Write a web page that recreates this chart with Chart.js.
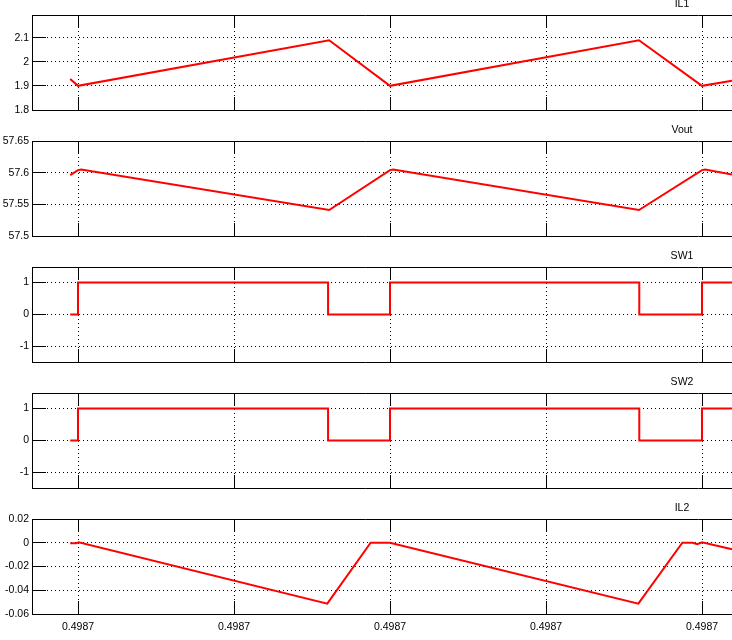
<!DOCTYPE html>
<html>
<head>
<meta charset="utf-8">
<script src="https://cdn.jsdelivr.net/npm/chart.js@4.4.0/dist/chart.umd.min.js"></script>
<style>
  html, body { margin: 0; padding: 0; background: #fff; width: 732px; height: 640px; overflow: hidden; }
  .panel { position: absolute; left: 0; width: 1364px; }
  canvas { display: block; }
</style>
</head>
<body>
<div class="panel" id="p1"><canvas id="c1" width="1364" height="115"></canvas></div>
<div class="panel" id="p2"><canvas id="c2" width="1364" height="115"></canvas></div>
<div class="panel" id="p3"><canvas id="c3" width="1364" height="115"></canvas></div>
<div class="panel" id="p4"><canvas id="c4" width="1364" height="115"></canvas></div>
<div class="panel" id="p5"><canvas id="c5" width="1364" height="138"></canvas></div>
<script>
// ---- x axis (time, in tick-interval units) ----
const xTicks = [0, 1, 2, 3, 4];
const xTickLabels = ['0.4987', '0.4987', '0.4987', '0.4987', '0.4987'];
const xMin = -0.2949;
const xMax = 8.2436;

// ---- IL1 ----
const tIL1 = [-0.05, 0, 1.61, 2, 3.596, 4, 4.192];
const IL1  = [1.929, 1.9005, 2.09, 1.9005, 2.09, 1.9005, 1.922];
const IL1Ticks = [1.8, 1.9, 2, 2.1];
const IL1TickLabels = ['1.8', '1.9', '2', '2.1'];

// ---- Vout ----
const tVout = [-0.05, 0, 0.02, 1.61, 2, 2.02, 3.596, 4, 4.02, 4.192];
const Vout  = [57.596, 57.604, 57.605, 57.541, 57.604, 57.605, 57.541, 57.604, 57.605, 57.597];
const VoutTicks = [57.5, 57.55, 57.6, 57.65];
const VoutTickLabels = ['57.5', '57.55', '57.6', '57.65'];

// ---- SW1 / SW2 (stepped) ----
const tSW1 = [-0.05, 0, 1.603, 2, 3.598, 4, 4.192];
const SW1  = [0, 1, 0, 1, 0, 1, 1];
const tSW2 = [-0.05, 0, 1.603, 2, 3.598, 4, 4.192];
const SW2  = [0, 1, 0, 1, 0, 1, 1];
const SWTicks = [-1, 0, 1];
const SWTickLabels = ['-1', '0', '1'];

// ---- IL2 ----
const tIL2 = [-0.05, -0.012, 0.005, 1.598, 1.876, 2, 3.592, 3.874, 3.94, 3.97, 4, 4.192];
const IL2  = [-0.0004, -0.0004, 0.0004, -0.0513, 0, 0, -0.0513, 0, 0, -0.0012, 0.0003, -0.0055];
const IL2Ticks = [-0.06, -0.04, -0.02, 0, 0.02];
const IL2TickLabels = ['-0.06', '-0.04', '-0.02', '0', '0.02'];

const FONT = { family: '"Liberation Sans", Arial, sans-serif', size: 10.5, weight: 'normal', lineHeight: '13px' };
const PANEL_TOPS = [15, 141, 267, 393, 519];
const PANEL_H = 95;
const TITLE_H = 17;

function zeroPad(s) { s.paddingLeft = 0; s.paddingRight = 0; s.paddingTop = 0; s.paddingBottom = 0; }

function makePanel(idx, title, t, v, yMin, yMax, yTicks, yLabels, stepped, showX) {
  const bottomH = showX ? (640 - (PANEL_TOPS[idx] + PANEL_H)) : 3;
  const canvas = document.getElementById('c' + (idx + 1));
  canvas.height = TITLE_H + PANEL_H + bottomH;
  const div = document.getElementById('p' + (idx + 1));
  div.style.top = (PANEL_TOPS[idx] - TITLE_H) + 'px';
  div.style.height = canvas.height + 'px';

  new Chart(canvas, {
    type: 'line',
    data: {
      datasets: [{
        data: t.map((x, i) => ({ x: x, y: v[i] })),
        borderColor: '#ff0000',
        borderWidth: 2,
        pointRadius: 0,
        tension: 0,
        fill: false,
        stepped: stepped ? 'before' : false
      }]
    },
    options: {
      responsive: false,
      animation: false,
      devicePixelRatio: 1,
      layout: { padding: 0 },
      plugins: {
        legend: { display: false },
        tooltip: { enabled: false },
        title: {
          display: true,
          text: title,
          color: '#000',
          font: FONT,
          padding: { top: 0, bottom: 4 },
          fullSize: true
        }
      },
      scales: {
        x: {
          type: 'linear',
          position: 'bottom',
          min: xMin, max: xMax,
          afterBuildTicks: s => { s.ticks = xTicks.map(val => ({ value: val })); },
          afterFit: s => { s.height = bottomH; zeroPad(s); },
          ticks: {
            display: showX,
            autoSkip: false,
            maxRotation: 0,
            color: '#000',
            font: FONT,
            padding: 20,
            callback: (val, i) => xTickLabels[i]
          },
          grid: { color: '#000', lineWidth: 1, drawTicks: true, tickLength: -13, tickColor: '#000', tickWidth: 1, tickBorderDash: [] },
          border: { display: true, color: '#000', width: 1, dash: [1, 3], dashOffset: 0 }
        },
        xTop: {
          type: 'linear',
          position: 'top',
          min: xMin, max: xMax,
          afterBuildTicks: s => { s.ticks = xTicks.map(val => ({ value: val })); },
          afterFit: s => { s.height = 0; zeroPad(s); },
          ticks: { display: false },
          grid: { color: '#000', lineWidth: 1, drawOnChartArea: false, drawTicks: true, tickLength: -13, tickColor: '#000', tickWidth: 1, tickBorderDash: [] },
          border: { display: true, color: '#000', width: 1 }
        },
        y: {
          type: 'linear',
          position: 'left',
          min: yMin, max: yMax,
          afterBuildTicks: s => { s.ticks = yTicks.map(val => ({ value: val })); },
          afterFit: s => { s.width = 32; zeroPad(s); },
          ticks: {
            color: '#000',
            font: FONT,
            padding: 17,
            autoSkip: false,
            callback: (val, i) => yLabels[i]
          },
          grid: { color: '#000', lineWidth: 1, drawTicks: true, tickLength: -14, tickColor: '#000', tickWidth: 1, tickBorderDash: [] },
          border: { display: true, color: '#000', width: 1, dash: [1, 3], dashOffset: 2 }
        }
      }
    }
  });
}

makePanel(0, 'IL1', tIL1, IL1, 1.8, 2.195, IL1Ticks, IL1TickLabels, false, false);
makePanel(1, 'Vout', tVout, Vout, 57.5, 57.65, VoutTicks, VoutTickLabels, false, false);
makePanel(2, 'SW1', tSW1, SW1, -1.48, 1.48, SWTicks, SWTickLabels, true, false);
makePanel(3, 'SW2', tSW2, SW2, -1.48, 1.48, SWTicks, SWTickLabels, true, false);
makePanel(4, 'IL2', tIL2, IL2, -0.06, 0.02, IL2Ticks, IL2TickLabels, false, true);
</script>
</body>
</html>
